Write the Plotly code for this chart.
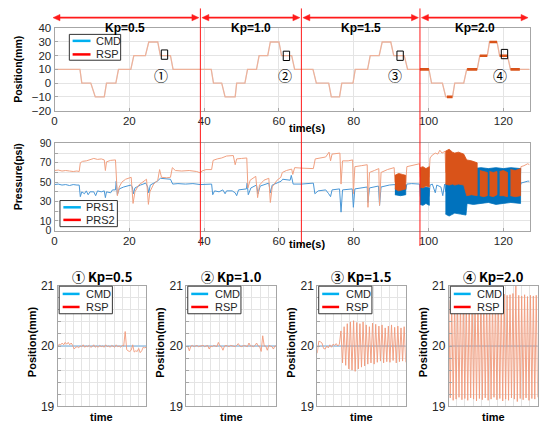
import plotly.graph_objects as go

W, H = 539, 433
FONT = "Liberation Sans, Arial, Noto Sans CJK KR, sans-serif"
CJK = "Noto Sans CJK KR, Liberation Sans, sans-serif"

# ======================= DATA =======================
KP_LABELS = ["Kp=0.5", "Kp=1.0", "Kp=1.5", "Kp=2.0"]
KP_SWITCH_T = [39.0, 66.0, 97.7]          # s, gain changes
T_RANGE = [0, 127]
TIME_TICKS = [0, 20, 40, 60, 80, 100, 120]
POS_TICKS = [-20, -10, 0, 10, 20, 30, 40]
PRS_TICKS = [0, 10, 20, 30, 40, 50, 60, 70, 80, 90]
PRS_TICK_TEXT = ["0", "10", "", "30", "", "50", "", "70", "", "90"]

# position command / response breakpoints (s, mm)
POS_T = [0.0,
         6.8, 7.3, 9.7, 10.9, 13.3, 13.9, 16.4, 17.1, 20.4, 21.2, 24.3, 25.2, 27.6, 28.3, 31.0, 31.7,
         41.9, 42.5, 44.7, 45.6, 48.3, 48.7, 50.9, 51.6, 54.0, 54.7, 57.0, 57.7, 60.0, 60.7, 63.4, 64.2,
         69.1, 70.0, 73.3, 74.0, 76.2, 76.8, 79.8, 80.4, 83.7, 84.4, 86.8, 87.6, 89.9, 90.7, 93.5, 94.4,
         100.1, 100.8, 103.7, 104.6, 106.4, 107.0, 109.4, 110.2, 113.0, 113.7, 115.7, 116.3, 118.3, 119.0, 121.1, 121.9,
         127.0]
POS_CMD = [10,
           10, 0, 0, -10, -10, 0, 0, 10, 10, 20, 20, 30, 30, 20, 20, 10,
           10, 0, 0, -10, -10, 0, 0, 10, 10, 20, 20, 30, 30, 20, 20, 10,
           10, 0, 0, -10, -10, 0, 0, 10, 10, 20, 20, 30, 30, 20, 20, 10,
           10, 0, 0, -10, -10, 0, 0, 10, 10, 20, 20, 30, 30, 20, 20, 10,
           10]
POS_RSP = list(POS_CMD)

# plateaus with visible oscillation at Kp=2.0
OSC_T0 = [97.7, 104.9, 110.3, 113.7, 116.3, 119.0, 121.9]
OSC_T1 = [100.1, 106.4, 113.0, 115.7, 118.3, 121.1, 124.4]
OSC_MM = [10, -10, 10, 20, 30, 20, 10]

# magnified windows
ZOOM_T = [29.4, 62.0, 92.4, 120.3]
ZOOM_MM = [20.8, 19.9, 20.0, 21.2]
TAG_T = [28.6, 61.6, 91.0, 119.2]
TAG_MM = [6.0, 6.0, 6.0, 6.0]
TAGS = ["①", "②", "③", "④"]

# pressure, thin traces (s, psi)
PRS2_T = [0, 1, 2, 3, 4, 5, 6, 6.6, 6.9, 7.5, 8.5, 9.5, 10.5, 11.5, 12.5, 13.3, 13.6, 13.9, 15.0, 16.3,
          16.8, 17.3, 18.0, 19.0, 20.5, 21.0, 21.5, 22.5, 23.5, 24.6, 25.1, 25.5, 26.5, 27.6, 28.1, 28.6,
          30.0, 31.0, 31.5, 32.3, 34.0, 36.0, 38.0, 39.0, 39.4, 40.5, 42.0, 42.4, 43.5, 44.7, 46.0, 47.8,
          48.3, 48.7, 50.0, 51.4, 51.7, 52.3, 53.8, 54.3, 54.8, 56.0, 57.3, 57.7, 58.2, 59.5, 60.5, 60.9,
          62.0, 63.4, 63.7, 64.2, 66.0, 68.0, 69.2, 69.7, 71.0, 72.5, 73.4, 73.8, 74.2, 75.5, 76.3, 76.6,
          77.0, 78.5, 79.7, 79.9, 80.3, 82.0, 83.6, 83.8, 84.2, 85.5, 86.7, 86.9, 87.3, 89.0, 90.8, 91.0,
          93.9, 94.2, 96.0, 97.6, 97.8, 100.1, 100.4, 101.0, 101.8, 102.5, 103.0, 103.6, 104.4, 104.6,
          124.5, 124.7, 125.5, 126.5, 127.0]
PRS2_V = [62, 62.5, 61.5, 62, 61.5, 61, 61.5, 61, 70, 71.5, 72, 73.5, 74.5, 73.5, 74, 73, 62, 71, 72.5, 73,
          36, 45, 50, 53, 55, 28, 40, 47, 50, 53, 27, 40, 48, 52, 63, 55,
          54.5, 55, 65, 62, 61.5, 62, 61, 59.5, 61.5, 63, 63, 72.5, 74, 75, 77, 77.5,
          68, 74, 74.5, 75, 44, 52, 56, 34, 47, 52, 54, 29, 45, 52, 55, 60,
          62, 63.5, 58, 65, 64.5, 64, 64, 74, 75, 76, 81, 72, 79, 80, 80, 48,
          72, 72, 73, 38, 66, 67, 68, 24, 60, 62, 64, 26, 60, 63, 65, 50,
          50, 66, 67.5, 69, 55, 55, 75, 78, 80, 79, 83, 80, 82, 60,
          50, 66, 67, 69, 68]

PRS1_T = [0, 1, 2, 3, 4, 5, 6, 6.6, 6.9, 7.3, 8.0, 8.5, 9.0, 9.5, 10.5, 11.0, 11.5, 12.5, 13.3, 13.6,
          13.9, 15.0, 15.5, 16.3, 16.5, 16.8, 17.3, 18.5, 20.4, 20.8, 21.1, 21.5, 23.0, 24.4, 24.9, 25.2,
          25.6, 27.5, 28.3, 29.5, 31.0, 31.6, 33.0, 35.0, 37.0, 39.0, 40.5, 42.0, 42.3, 42.8, 44.0, 45.0,
          45.6, 46.0, 47.5, 48.3, 48.7, 49.2, 51.3, 51.5, 51.8, 52.5, 54.0, 54.4, 55.0, 57.3, 57.7, 58.2,
          60.6, 61.0, 63.0, 63.3, 63.8, 66.0, 69.2, 69.6, 70.5, 72.5, 73.3, 73.8, 74.2, 76.2, 76.6, 77.0,
          79.6, 79.9, 80.3, 83.6, 83.8, 84.2, 86.6, 86.9, 87.3, 89.5, 91.0, 93.9, 94.2, 95.5, 97.6, 97.8,
          100.1, 100.4, 101.0, 101.8, 102.2, 103.3, 103.8, 104.3, 104.6, 124.5, 124.7, 125.5, 126.5, 127.0]
PRS1_V = [47.5, 48, 47, 47.5, 46.5, 47.5, 47, 47, 35, 40, 38, 41, 37, 40, 40, 36, 41, 40, 41, 34,
          40, 39, 42, 42, 51, 37, 43, 45, 47, 45, 38, 44, 47, 49, 45, 39,
          47, 51, 54, 53.5, 53, 48, 48.5, 48, 48.5, 47.5, 48, 48, 37, 41, 40, 42,
          38, 41, 41, 39, 36, 42, 43, 49, 37, 44, 47, 38, 46, 49, 39, 47,
          51, 53, 52, 57, 48, 48, 49, 38, 41, 42, 38, 35, 42, 43, 19, 42,
          43, 24, 43, 45, 29, 44, 46, 26, 45, 47, 47.5, 42, 48, 48.5, 48, 35,
          35, 47, 48, 39, 47, 45, 36, 48, 40, 45, 49, 50, 51, 51]

# pressure, dense oscillation envelopes (s, psi low / high)
PRS2_BAND_T = [[91.0, 92.0, 93.0, 93.9],
               [97.7, 98.5, 99.3, 100.2],
               [104.5, 105.5, 106.4, 107.0, 108.0, 109.4, 110.2, 111.5, 113.0],
               [113.7, 114.7, 115.7], [116.3, 117.3, 118.3], [119.0, 120.0, 121.1], [121.9, 123.2, 124.6]]
PRS2_BAND_LO = [[43, 41, 42, 43],
                [45, 44, 46, 45],
                [48, 47, 48, 47, 48, 47, 36, 37, 36],
                [36, 35, 36], [36, 35, 37], [36, 36, 35], [36, 35, 36]]
PRS2_BAND_HI = [[57, 59, 58, 57],
                [65, 66, 64, 66],
                [82, 84, 81, 80, 81, 79, 73, 72, 70],
                [62, 61, 60], [61, 60, 61], [61, 62, 60], [63, 62, 64]]
PRS1_BAND_T = [[91.0, 92.5, 93.9],
               [97.7, 98.5, 99.3, 100.2],
               [104.5, 105.5, 107.0, 108.5, 110.0, 110.3, 112.0, 114.0, 116.0, 118.0, 120.0, 122.0, 124.6]]
PRS1_BAND_LO = [[37, 36, 37],
                [27, 26, 28, 26],
                [17, 15, 18, 17, 16, 28, 27, 28, 29, 27, 28, 29, 28]]
PRS1_BAND_HI = [[47, 48, 47],
                [45, 44, 45, 44],
                [48, 49, 50, 49, 50, 65, 64, 65, 64, 65, 64, 65, 64]]

# magnified windows, RSP samples (mm) and CMD (mm)
ZOOM_TITLES = ["① Kp=0.5", "② Kp=1.0", "③ Kp=1.5", "④ Kp=2.0"]
ZOOM_CMD = [20, 20]
RSP1 = [20.00, 20.03, 20.02, 20.05, 20.02, 20.06, 20.03, 20.06, 20.02, 20.05,
        20.01, 19.95, 19.98, 19.99, 19.97, 20.00, 19.99, 20.02, 19.98, 20.00,
        19.99, 20.01, 19.98, 19.99, 20.02, 19.98, 20.00, 19.98, 20.01, 19.99,
        20.00, 19.98, 20.02, 19.99, 20.00, 19.98, 20.01, 20.00, 19.98, 20.02,
        19.99, 20.00, 19.98, 20.01, 20.00, 20.24, 19.94, 19.92, 19.91, 19.93,
        20.02, 19.90, 19.92, 19.91, 19.96, 19.89, 19.92, 19.98, 19.97, 19.98]
RSP2 = [20.00, 19.99, 19.92, 20.00, 20.01, 19.99, 20.00, 20.01, 19.99, 20.00,
        20.00, 20.01, 19.99, 20.00, 20.01, 19.95, 20.00, 19.99, 20.01, 20.00,
        19.99, 20.06, 20.00, 19.99, 19.93, 20.00, 20.01, 20.00, 19.99, 20.01,
        20.00, 20.00, 19.99, 20.01, 20.04, 20.00, 19.99, 20.00, 20.01, 20.00,
        19.99, 20.05, 20.00, 20.00, 19.99, 20.01, 20.05, 20.00, 19.99, 19.91,
        20.17, 20.00, 20.00, 19.93, 20.01, 20.00, 19.99, 19.95, 20.00, 20.00]
RSP3 = [19.88, 20.08, 20.07, 20.05, 19.96, 19.95, 20.00, 19.97, 20.02, 19.98,
        20.03, 20.01, 20.04, 20.00, 20.03,
        20.25, 19.72, 20.32, 19.68, 20.37, 19.62, 20.40, 19.60, 20.42, 19.58,
        20.39, 19.62, 20.37, 19.65, 20.40, 19.67, 20.35, 19.70, 20.32, 19.72,
        20.38, 19.70, 20.36, 19.73, 20.33, 19.75, 20.35, 19.72, 20.30, 19.74,
        20.33, 19.73, 20.35, 19.76, 20.31, 19.72, 20.33, 19.74, 20.30, 19.75,
        20.32, 19.73]
RSP4 = [20.76, 19.14, 20.78, 19.10, 20.80, 19.12, 20.77, 19.15, 20.79, 19.11,
        20.80, 19.13, 20.78, 19.10, 20.81, 19.14, 20.79, 19.12, 20.80, 19.09,
        20.82, 19.13, 20.80, 19.11, 20.83, 19.14, 20.81, 19.10, 20.84, 19.12,
        20.82, 19.15, 20.85, 19.11, 20.83, 19.13, 20.84, 19.09, 20.86, 19.12,
        20.84, 19.10, 20.85, 19.14, 20.87, 19.12, 21.00, 19.08, 20.84, 19.13,
        20.83, 19.11, 20.85, 19.14, 20.82, 19.10, 20.84, 19.13, 20.83, 19.12,
        20.84, 19.15]
ZOOM_RSP = [RSP1, RSP2, RSP3, RSP4]

# ======================= GEOMETRY / STYLE =======================
X0_PX, X1_PX = 51.8, 529.5
TOP_Y = (22, 107)
MID_Y = (141, 231)
BOT_Y = (288, 412.7)
BOT_X = [(55, 144), (184.3, 275), (316, 405), (448.3, 537.7)]

C_LEG_CMD = "#00b0f0"
C_LEG_RSP = "#ff0000"
C_BLUE = "#0072bd"
C_ORANGE = "#d95319"
GRID = "#e4e4e4"
FRAME = "#a6a6a6"


def px(x):
    return x / W


def py(y):
    return 1 - y / H


def t2px(t):
    return X0_PX + (t - T_RANGE[0]) * (X1_PX - X0_PX) / (T_RANGE[1] - T_RANGE[0])


fig = go.Figure()

# ---------- top: position ----------
fig.add_trace(go.Scatter(x=POS_T, y=POS_CMD, mode="lines", line=dict(color="#b9d3ec", width=0.6),
                         xaxis="x", yaxis="y", showlegend=False, hoverinfo="skip"))
fig.add_trace(go.Scatter(x=POS_T, y=POS_RSP, mode="lines", line=dict(color="#eeb29a", width=1.3),
                         xaxis="x", yaxis="y", showlegend=False, hoverinfo="skip"))
ox, oy = [], []
for a, b, v in zip(OSC_T0, OSC_T1, OSC_MM):
    ox += [a, b, None]
    oy += [v, v, None]
fig.add_trace(go.Scatter(x=ox, y=oy, mode="lines", line=dict(color=C_ORANGE, width=2.6),
                         xaxis="x", yaxis="y", showlegend=False, hoverinfo="skip"))

# ---------- middle: pressure ----------
fig.add_trace(go.Scatter(x=PRS1_T, y=PRS1_V, mode="lines", line=dict(color="#4a97d6", width=1),
                         xaxis="x2", yaxis="y2", showlegend=False, hoverinfo="skip"))
fig.add_trace(go.Scatter(x=PRS2_T, y=PRS2_V, mode="lines", line=dict(color="#f0a080", width=1),
                         xaxis="x2", yaxis="y2", showlegend=False, hoverinfo="skip"))
for ts, lo, hi in zip(PRS1_BAND_T, PRS1_BAND_LO, PRS1_BAND_HI):
    fig.add_trace(go.Scatter(x=ts + ts[::-1], y=hi + lo[::-1], mode="lines", fill="toself",
                             fillcolor=C_BLUE, line=dict(color=C_BLUE, width=0.8),
                             xaxis="x2", yaxis="y2", showlegend=False, hoverinfo="skip"))
for ts, lo, hi in zip(PRS2_BAND_T, PRS2_BAND_LO, PRS2_BAND_HI):
    fig.add_trace(go.Scatter(x=ts + ts[::-1], y=hi + lo[::-1], mode="lines", fill="toself",
                             fillcolor=C_ORANGE, line=dict(color=C_ORANGE, width=0.8),
                             xaxis="x2", yaxis="y2", showlegend=False, hoverinfo="skip"))

# ---------- bottom: magnified ----------
for k, rsp in enumerate(ZOOM_RSP):
    ax = str(k + 3)
    n = len(rsp)
    xs = [i / (n - 1) for i in range(n)]
    fig.add_trace(go.Scatter(x=[0, 1], y=ZOOM_CMD, mode="lines", line=dict(color="#9cc4e6", width=1.5),
                             xaxis="x" + ax, yaxis="y" + ax, showlegend=False, hoverinfo="skip"))
    fig.add_trace(go.Scatter(x=xs, y=rsp, mode="lines", line=dict(color="#f09a7a", width=0.9),
                             xaxis="x" + ax, yaxis="y" + ax, showlegend=False, hoverinfo="skip"))


def axis(**kw):
    base = dict(showline=True, linecolor=FRAME, linewidth=1, mirror=True, showgrid=True,
                gridcolor=GRID, gridwidth=1, zeroline=False, ticks="inside", ticklen=3,
                tickcolor=FRAME, tickfont=dict(family=FONT, size=11.5, color="#262626"),
                fixedrange=True)
    base.update(kw)
    return base


layout = dict(
    width=W, height=H, margin=dict(l=0, r=0, t=0, b=0),
    paper_bgcolor="white", plot_bgcolor="white", showlegend=False,
    xaxis=axis(domain=[px(X0_PX), px(X1_PX)], anchor="y", range=T_RANGE, tickvals=TIME_TICKS),
    yaxis=axis(domain=[py(TOP_Y[1]), py(TOP_Y[0])], anchor="x", range=[-20, 40], tickvals=POS_TICKS),
    xaxis2=axis(domain=[px(X0_PX), px(X1_PX)], anchor="y2", range=T_RANGE, tickvals=TIME_TICKS),
    yaxis2=axis(domain=[py(MID_Y[1]), py(MID_Y[0])], anchor="x2", range=[0, 90],
                tickvals=PRS_TICKS, ticktext=PRS_TICK_TEXT,
                tickfont=dict(family=FONT, size=10.5, color="#262626")),
)
grid_x = [i / 11 for i in range(1, 11)]
grid_y = [round(19 + 0.2 * i, 1) for i in range(11)]
grid_y_txt = [str(int(v)) if abs(v - round(v)) < 1e-9 else "" for v in grid_y]
for k, (x0, x1) in enumerate(BOT_X):
    a = str(k + 3)
    layout["xaxis" + a] = axis(domain=[px(x0), px(x1)], anchor="y" + a, range=[0, 1], tickvals=grid_x,
                               showticklabels=False, ticks="")
    layout["yaxis" + a] = axis(domain=[py(BOT_Y[1]), py(BOT_Y[0])], anchor="x" + a, range=[19, 21],
                               tickvals=grid_y, ticktext=grid_y_txt,
                               tickfont=dict(family=FONT, size=12, color="#262626"))
fig.update_layout(**layout)

shapes = []
ann = []


def text(x, y, s, size, bold=True, angle=0, family=FONT, color="black"):
    ann.append(dict(x=px(x), y=py(y), xref="paper", yref="paper", text=("<b>%s</b>" % s) if bold else s,
                    showarrow=False, textangle=angle, xanchor="center", yanchor="middle",
                    font=dict(family=family, size=size, color=color)))


def legend(box, line_x, text_x, rows, labels, colors, size=11):
    x0, y0, x1, y1 = box
    shapes.append(dict(type="rect", xref="paper", yref="paper", x0=px(x0), x1=px(x1), y0=py(y1), y1=py(y0),
                       line=dict(color="#333333", width=1), fillcolor="white", layer="above"))
    for yy, lab, col in zip(rows, labels, colors):
        shapes.append(dict(type="line", xref="paper", yref="paper", x0=px(line_x[0]), x1=px(line_x[1]),
                           y0=py(yy), y1=py(yy), line=dict(color=col, width=2.5), layer="above"))
        ann.append(dict(x=px(text_x), y=py(yy), xref="paper", yref="paper", text=lab, showarrow=False,
                        xanchor="left", yanchor="middle", font=dict(family=FONT, size=size, color="#262626")))


# red dividers and double arrows
bounds = [T_RANGE[0]] + KP_SWITCH_T + [T_RANGE[1]]
for t in KP_SWITCH_T:
    shapes.append(dict(type="line", xref="paper", yref="paper", x0=px(t2px(t)), x1=px(t2px(t)),
                       y0=py(1.5), y1=py(247), line=dict(color="#ff1a1a", width=1), layer="above"))
AY = 11
for i in range(4):
    xa = t2px(bounds[i]) + (1.5 if i else -1.5)
    xb = t2px(bounds[i + 1]) - 1.5
    shapes.append(dict(type="line", xref="paper", yref="paper", x0=px(xa + 3), x1=px(xb - 3),
                       y0=py(AY), y1=py(AY), line=dict(color="#ff1a1a", width=1.6), layer="above"))
    for tip, d in ((xa, 1), (xb, -1)):
        path = "M %f,%f L %f,%f L %f,%f Z" % (px(tip), py(AY), px(tip + 7 * d), py(AY - 3.3),
                                              px(tip + 7 * d), py(AY + 3.3))
        shapes.append(dict(type="path", xref="paper", yref="paper", path=path,
                           fillcolor="#ff1a1a", line=dict(color="#ff1a1a", width=0.5), layer="above"))
    text((t2px(bounds[i]) + t2px(bounds[i + 1])) / 2 if i else 123, 22, KP_LABELS[i], 12)

# small windows on the position plot
for t, v in zip(ZOOM_T, ZOOM_MM):
    shapes.append(dict(type="rect", xref="x", yref="y", x0=t - 0.85, x1=t + 0.85, y0=v - 3.4, y1=v + 3.4,
                       line=dict(color="black", width=1), layer="above"))
for t, v, s in zip(TAG_T, TAG_MM, TAGS):
    ann.append(dict(x=t, y=v, xref="x", yref="y", text=s, showarrow=False,
                    font=dict(family=CJK, size=14, color="black")))

# axis titles
text(15, 64, "Position(mm)", 10.5, angle=-90)
text(15, 175, "Pressure(psi)", 10.5, angle=-90)
text(306, 125, "time(s)", 11)
text(306, 245, "time(s)", 11)

legend((66.7, 28.3, 118.3, 55), (70, 88), 91.7, (35, 49), ["CMD", "RSP"], [C_LEG_CMD, C_LEG_RSP])
legend((57.3, 200, 115, 227), (60.7, 78.3), 81, (207, 220), ["PRS1", "PRS2"], [C_LEG_CMD, C_LEG_RSP])

for k, (x0, x1) in enumerate(BOT_X):
    cx = (x0 + x1) / 2
    text(cx, 278, ZOOM_TITLES[k], 13, family=CJK)
    text(cx, 424, "time", 11)
    text(x0 - 26.5, 346, "Position(mm)", 11, angle=-90)
    legend((x0 + 1.5, 288.5, x0 + 55, 317), (x0 + 5, x0 + 22), x0 + 26.5, (296.5, 310),
           ["CMD", "RSP"], [C_LEG_CMD, C_LEG_RSP])

fig.update_layout(shapes=shapes, annotations=ann)
fig.write_html("out.html", config={"displayModeBar": False},
               post_script="document.body.style.margin='0';document.body.style.padding='0';"
                           "document.body.style.overflow='hidden';")
